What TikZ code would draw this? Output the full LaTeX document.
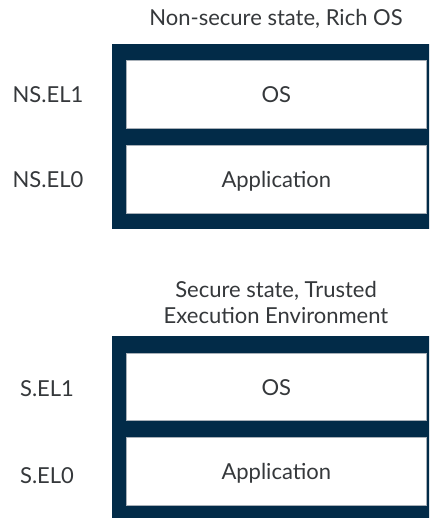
\documentclass[tikz,border=0pt]{standalone}
\usepackage{fontspec}
\setmainfont{Lato}
\definecolor{navy}{HTML}{022B48}
\definecolor{txt}{HTML}{35383B}
\definecolor{edge}{HTML}{A8B0B8}
\begin{document}
\begin{tikzpicture}[x=1pt,y=-1pt,
  every node/.style={text=txt,font=\fontsize{22}{26}\selectfont},
  frame/.style={fill=navy,draw=none,anchor=north west,inner sep=0pt},
  layer/.style={fill=white,draw=edge,line width=0.6pt,anchor=north west,inner sep=0pt,
                text height=16.5pt,text depth=0pt},
  lbl/.style={anchor=base,inner sep=0pt},
]
\clip (0,0) rectangle (429,518);
\fill[white] (0,0) rectangle (429,518);
% top frame
\node[frame,minimum width=330pt,minimum height=185pt] (nsframe) at (112,44) {};
\node[layer,minimum width=300pt,minimum height=68pt] (nsos) at (126,60) {OS};
\node[layer,minimum width=300pt,minimum height=68pt] (nsapp) at (126,145) {Application};
% bottom frame
\node[frame,minimum width=330pt,minimum height=200pt] (sframe) at (112,336) {};
\node[layer,minimum width=300pt,minimum height=67pt] (sos) at (126,353) {OS};
\node[layer,minimum width=300pt,minimum height=68pt] (sapp) at (126,437) {Application};
% titles
\node[lbl] (nstitle) at (276,26) {Non-secure state, Rich OS};
\node[lbl] (stitlea) at (276,297) {Secure state, Trusted};
\node[lbl] (stitleb) at (276,323) {Execution Environment};
% level labels
\node[lbl] (nsel1) at (48,103) {NS.EL1};
\node[lbl] (nsel0) at (48,188) {NS.EL0};
\node[lbl] (sel1) at (47,396) {S.EL1};
\node[lbl] (sel0) at (47,483) {S.EL0};
\end{tikzpicture}
\end{document}
